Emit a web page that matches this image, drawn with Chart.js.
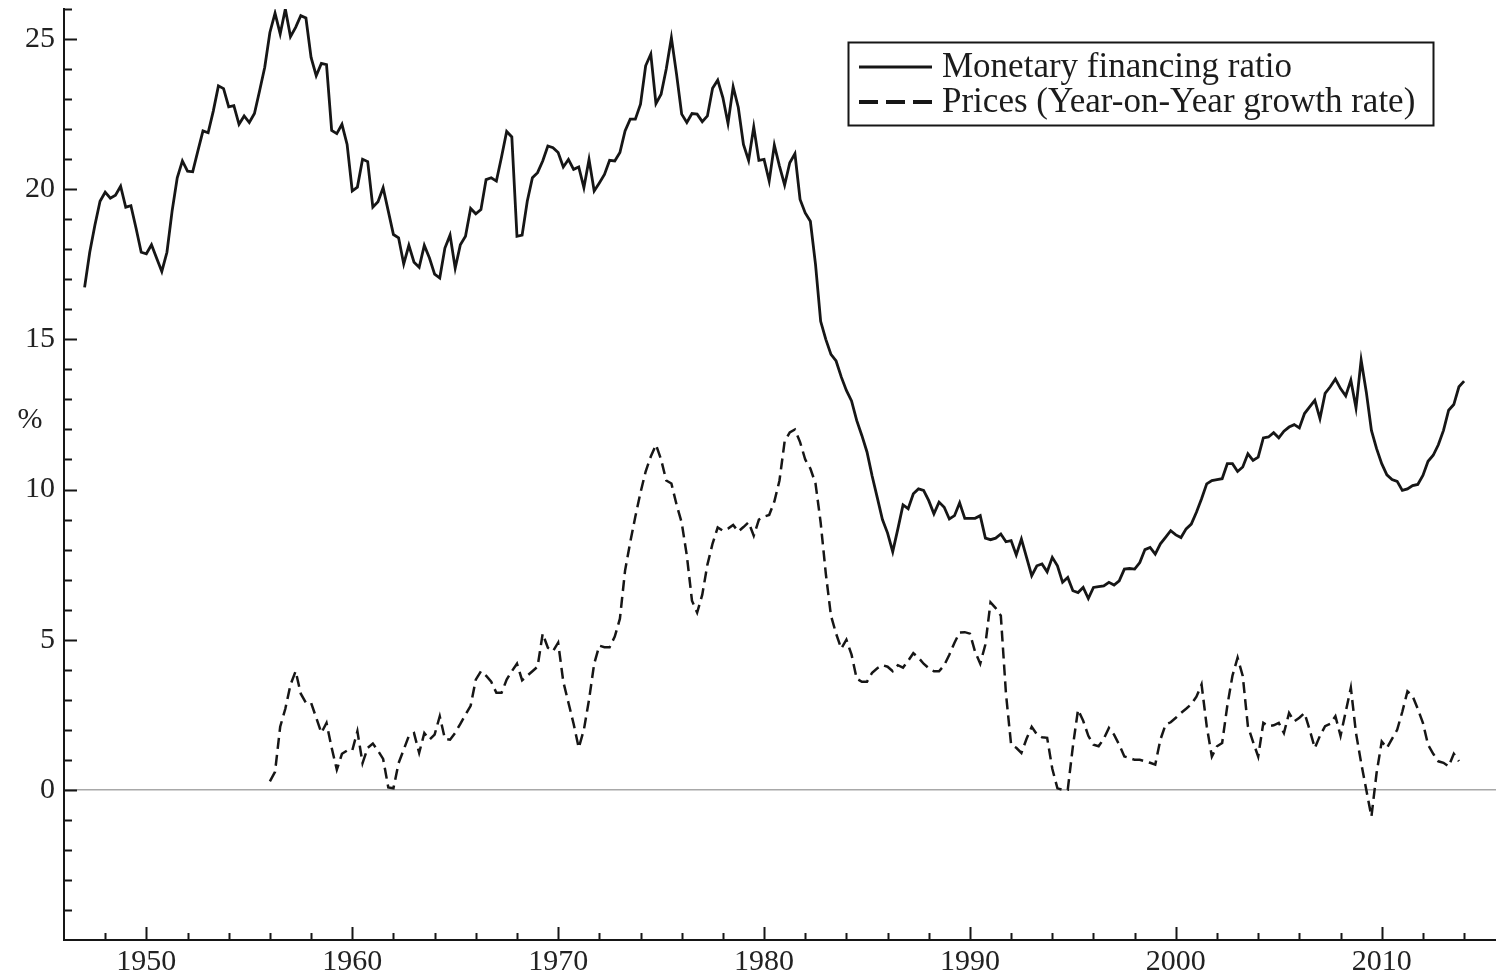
<!DOCTYPE html>
<html>
<head>
<meta charset="utf-8">
<style>
  html, body { margin: 0; padding: 0; background: #ffffff; }
  #wrap { width: 1496px; height: 975px; position: relative; }
  canvas { display: block; }
</style>
<script src="https://cdn.jsdelivr.net/npm/chart.js@4.4.1/dist/chart.umd.min.js"></script>
</head>
<body>
<div id="wrap"><canvas id="chart" width="1496" height="975"></canvas></div>
<script>
// Quarterly series, first observation in Q1 of the start year
const mfrStartYear = 1947;
const pricesStartYear = 1956;

// Monetary financing ratio, %
const monetaryFinancingRatio = [
  16.73, 17.9, 18.8, 19.6, 19.9, 19.7, 19.8, 20.1, 19.4, 19.45, 18.7, 17.9,
  17.85, 18.15, 17.7, 17.26, 17.9, 19.27, 20.38, 20.94, 20.6, 20.58, 21.27, 21.94,
  21.88, 22.6, 23.44, 23.35, 22.74, 22.78, 22.16, 22.44, 22.22, 22.52, 23.28, 24.06,
  25.22, 25.86, 25.17, 26.0, 25.08, 25.39, 25.78, 25.7, 24.39, 23.78, 24.19, 24.15,
  21.96, 21.85, 22.16, 21.49,
  19.94, 20.07, 21.0, 20.92, 19.4, 19.58, 20.05, 19.27, 18.49, 18.38, 17.51, 18.13,
  17.57, 17.4, 18.13, 17.71, 17.17, 17.04, 18.04, 18.47, 17.37, 18.15, 18.43, 19.36,
  19.18, 19.32, 20.32, 20.38, 20.27, 21.07, 21.92, 21.74, 18.43, 18.47, 19.6, 20.38,
  20.55, 20.94, 21.44, 21.38, 21.22, 20.74, 20.99, 20.66, 20.74, 20.05, 20.99, 19.94,
  20.21, 20.49, 20.96, 20.94,
  21.22, 21.94, 22.33, 22.33, 22.83, 24.11, 24.5, 22.85, 23.16, 24.0, 25.04, 23.83,
  22.5, 22.22, 22.52, 22.5, 22.25, 22.44, 23.36, 23.63, 23.05, 22.19, 23.41, 22.72,
  21.49, 20.96, 22.07, 20.96, 20.99, 20.27, 21.47, 20.77, 20.14, 20.88, 21.18, 19.66,
  19.21, 18.93, 17.5, 15.6, 15.0, 14.5, 14.28, 13.75, 13.3, 12.95, 12.3, 11.8,
  11.25, 10.45, 9.73, 9.0, 8.55, 7.93, 8.69, 9.49, 9.36, 9.86, 10.02, 9.97,
  9.63, 9.19, 9.58, 9.41, 9.02, 9.13, 9.56, 9.04, 9.04, 9.04, 9.13, 8.38,
  8.33, 8.38, 8.52, 8.26, 8.3, 7.82, 8.35, 7.74, 7.13, 7.46, 7.52, 7.26,
  7.74, 7.46, 6.91, 7.07, 6.63, 6.57, 6.74, 6.37, 6.74, 6.77, 6.79, 6.91,
  6.82, 6.96, 7.35, 7.37, 7.35, 7.57, 8.0, 8.07, 7.85, 8.19, 8.41, 8.63,
  8.49, 8.4, 8.69, 8.85, 9.24, 9.69, 10.19, 10.3, 10.33, 10.36, 10.86, 10.86,
  10.6, 10.75, 11.19, 10.97, 11.08, 11.72, 11.75, 11.89, 11.72, 11.94, 12.08, 12.16,
  12.05, 12.53, 12.75, 12.97, 12.36, 13.2, 13.42, 13.68, 13.36, 13.12, 13.64, 12.72,
  14.31, 13.25, 11.97, 11.36, 10.86, 10.49, 10.33, 10.27, 9.97, 10.02, 10.13, 10.17,
  10.47, 10.94, 11.14, 11.49, 11.97, 12.64, 12.83, 13.42, 13.61
];

// Prices, year-on-year growth rate, %
const pricesYoY = [
  0.28, 0.6, 2.1, 2.7, 3.5, 3.95, 3.2, 2.9, 2.9, 2.4, 1.9, 2.23,
  1.4, 0.67, 1.2, 1.31, 1.31, 1.95, 0.89, 1.4, 1.54, 1.3, 1.03, 0.08,
  0.05, 0.89, 1.34, 1.8, 1.89, 1.23, 1.89, 1.67, 1.84, 2.45, 1.7, 1.67,
  1.9, 2.2, 2.5, 2.8, 3.67, 3.95, 3.8, 3.6, 3.23, 3.23, 3.67, 3.95,
  4.2, 3.65, 3.8, 3.95, 4.1, 5.2, 4.73, 4.62, 4.9, 3.6, 2.9, 2.2,
  1.4, 2.0, 3.0, 4.2, 4.8, 4.75, 4.75, 5.1, 5.7, 7.3, 8.24, 9.1,
  9.9, 10.6, 11.1, 11.49, 11.0, 10.3, 10.2, 9.5, 8.9, 7.8, 6.3, 5.9,
  6.5, 7.5, 8.2, 8.74, 8.63, 8.7, 8.82, 8.6, 8.75, 8.91, 8.46, 9.0,
  9.1, 9.15, 9.6, 10.3, 11.6, 11.9, 12.0, 11.58, 11.0, 10.7, 10.2, 8.9,
  7.2, 5.8, 5.2, 4.7, 5.0, 4.5, 3.7, 3.6, 3.6, 3.9, 4.05, 4.15,
  4.1, 3.95, 4.15, 4.07, 4.3, 4.55, 4.4, 4.2, 4.05, 3.95, 3.95, 4.15,
  4.5, 4.9, 5.24, 5.25, 5.2, 4.6, 4.2, 4.84, 6.24, 6.05, 5.8, 3.2,
  1.5, 1.4, 1.23, 1.7, 2.1, 1.85, 1.75, 1.73, 0.7, 0.05, 0.0, 0.0,
  1.45, 2.67, 2.3, 1.8, 1.5, 1.45, 1.7, 2.06, 1.84, 1.5, 1.11, 1.06,
  1.0, 1.0, 0.95, 0.9, 0.84, 1.67, 2.17, 2.25, 2.4, 2.56, 2.7, 2.85,
  3.1, 3.51, 2.12, 1.11, 1.45, 1.56, 2.8, 3.8, 4.4, 3.79, 2.12, 1.6,
  1.11, 2.23, 2.12, 2.15, 2.23, 1.89, 2.56, 2.28, 2.4, 2.56, 2.0, 1.39,
  1.8, 2.12, 2.2, 2.45, 1.8, 2.6, 3.4, 1.89, 0.9, 0.0, -0.89, 0.56,
  1.61, 1.39, 1.7, 2.0, 2.6, 3.28, 3.12, 2.7, 2.23, 1.5, 1.2, 0.95,
  0.9, 0.78, 1.2, 0.95
];

const yTickLabels = [0, 5, 10, 15, 20, 25];
const xTickLabels = [1950, 1960, 1970, 1980, 1990, 2000, 2010];
const seriesNames = ['Monetary financing ratio', 'Prices (Year-on-Year growth rate)'];
const yAxisUnit = '%';

const INK = '#161616';
const SERIF = '"Liberation Serif", "DejaVu Serif", serif';

function quarterly(startYear, values) {
  return values.map((v, i) => ({ x: startYear + i / 4, y: v }));
}

// Inward tick marks, the unit label and the boxed legend
const axisDecor = {
  id: 'axisDecor',
  afterDraw(chart) {
    const { ctx, chartArea, scales } = chart;
    const xs = scales.x, ys = scales.y;
    ctx.save();
    ctx.strokeStyle = INK;
    ctx.lineWidth = 2;
    ctx.beginPath();
    for (let v = Math.ceil(ys.min) + 1; v <= ys.max; v++) {
      const py = Math.round(ys.getPixelForValue(v)) + 0.5;
      const len = v % 5 === 0 ? 13 : 8;
      ctx.moveTo(chartArea.left, py);
      ctx.lineTo(chartArea.left + len, py);
    }
    for (let v = 1948; v < xs.max; v += 2) {
      const px = Math.round(xs.getPixelForValue(v)) + 0.5;
      const len = v % 10 === 0 ? 13 : 7;
      ctx.moveTo(px, chartArea.bottom);
      ctx.lineTo(px, chartArea.bottom - len);
    }
    ctx.stroke();

    // unit label beside the value axis
    ctx.fillStyle = '#222';
    ctx.font = '30px ' + SERIF;
    ctx.textAlign = 'center';
    ctx.textBaseline = 'middle';
    ctx.fillText(yAxisUnit, 30, ys.getPixelForValue(12.3));

    // legend
    const bx = 848.5, by = 42.5, bw = 585, bh = 83;
    ctx.lineWidth = 2;
    ctx.strokeStyle = INK;
    ctx.strokeRect(bx, by, bw, bh);
    ctx.font = '35px ' + SERIF;
    ctx.textAlign = 'left';
    ctx.textBaseline = 'middle';
    const rows = [67, 102];
    chart.data.datasets.forEach((ds, i) => {
      const ry = rows[i];
      ctx.beginPath();
      ctx.lineWidth = i === 1 ? 4 : 3;
      ctx.strokeStyle = ds.borderColor;
      ctx.setLineDash(i === 1 ? [19, 8] : []);
      ctx.moveTo(859, ry);
      ctx.lineTo(932, ry);
      ctx.stroke();
      ctx.setLineDash([]);
      ctx.fillStyle = '#1c1c1c';
      ctx.fillText(ds.label, 942, ry + 1);
    });
    ctx.restore();
  }
};

// keep the plot frame flush: no extra room reserved for end tick labels
function noScalePadding(scale) {
  scale.paddingTop = 0;
  scale.paddingBottom = 0;
  scale.paddingLeft = 0;
  scale.paddingRight = 0;
}

new Chart(document.getElementById('chart'), {
  type: 'line',
  data: {
    datasets: [
      {
        label: seriesNames[0],
        data: quarterly(mfrStartYear, monetaryFinancingRatio),
        borderColor: INK,
        borderWidth: 2.8,
        pointRadius: 0,
        tension: 0,
        fill: false
      },
      {
        label: seriesNames[1],
        data: quarterly(pricesStartYear, pricesYoY),
        borderColor: INK,
        borderWidth: 2.5,
        borderDash: [11, 6],
        pointRadius: 0,
        tension: 0,
        fill: false
      }
    ]
  },
  options: {
    responsive: false,
    animation: false,
    devicePixelRatio: 1,
    layout: { padding: { top: 9, right: 0, bottom: 0, left: 0 } },
    plugins: {
      legend: { display: false },
      tooltip: { enabled: false }
    },
    scales: {
      x: {
        type: 'linear',
        min: 1946,
        max: 2015.55,
        border: { display: true, color: INK, width: 2 },
        grid: { display: false, drawTicks: false },
        ticks: {
          stepSize: 2,
          autoSkip: false,
          maxRotation: 0,
          padding: 4,
          color: '#222',
          font: { family: SERIF, size: 30 },
          callback: (v) => xTickLabels.includes(v) ? String(v) : ''
        },
        afterFit: (scale) => { scale.height = 35; noScalePadding(scale); }
      },
      y: {
        type: 'linear',
        min: -5,
        max: 26,
        border: { display: true, color: INK, width: 2 },
        grid: {
          drawTicks: false,
          lineWidth: 1.5,
          color: (c) => (c.tick && c.tick.value === 0) ? '#a8a8a8' : 'rgba(0,0,0,0)'
        },
        ticks: {
          stepSize: 1,
          autoSkip: false,
          padding: 9,
          color: '#222',
          font: { family: SERIF, size: 30 },
          callback: (v) => yTickLabels.includes(v) ? String(v) : ''
        },
        afterFit: (scale) => { scale.width = 64; noScalePadding(scale); }
      }
    }
  },
  plugins: [axisDecor]
});
</script>
</body>
</html>
